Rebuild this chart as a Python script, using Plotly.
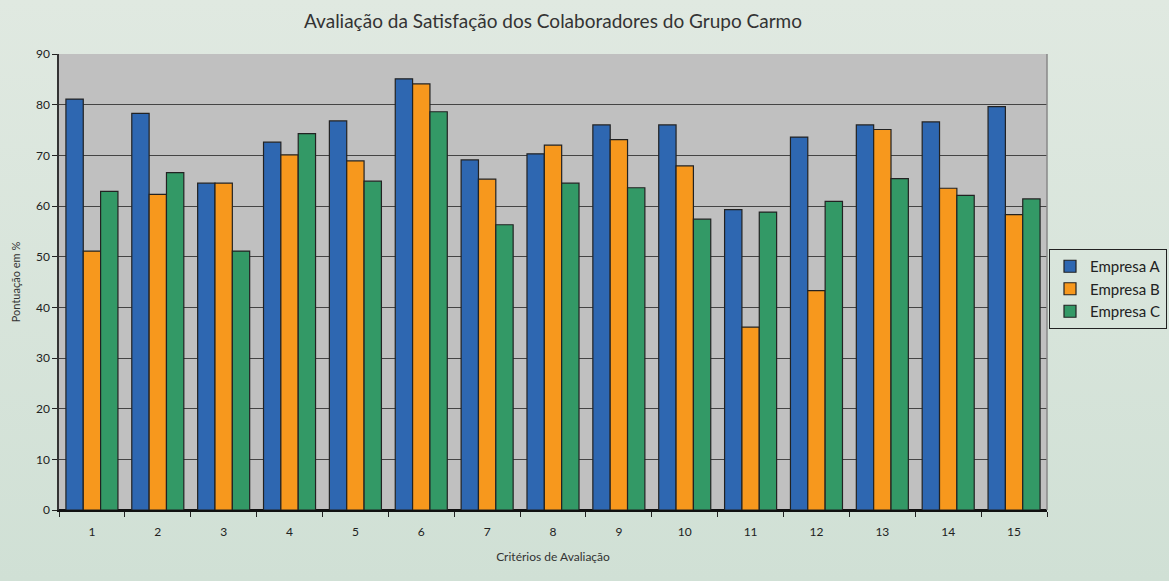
import plotly.graph_objects as go

criterios = [str(i) for i in range(1, 16)]
empresa_a = [81.1, 78.3, 64.5, 72.6, 76.8, 85.1, 69.1, 70.3, 76.0, 76.0, 59.3, 73.6, 76.0, 76.6, 79.6]
empresa_b = [51.1, 62.3, 64.5, 70.1, 68.9, 84.1, 65.3, 72.0, 73.1, 67.9, 36.1, 43.3, 75.1, 63.5, 58.3]
empresa_c = [62.9, 66.6, 51.1, 74.3, 64.9, 78.6, 56.3, 64.5, 63.6, 57.4, 58.8, 60.9, 65.4, 62.1, 61.4]
series_names = ["Empresa A", "Empresa B", "Empresa C"]
colors = ["#2e67b1", "#f7981d", "#339966"]

W, H = 1169, 581
ml, mr, mt, mb = 59, 122, 54, 71
pw, ph = W - ml - mr, H - mt - mb

fig = go.Figure()
for name, vals, col in zip(series_names, [empresa_a, empresa_b, empresa_c], colors):
    fig.add_trace(go.Bar(
        x=criterios, y=vals, name=name,
        marker=dict(color=col, line=dict(color="#222222", width=1.2)),
    ))

svg = ("data:image/svg+xml;utf8,<svg xmlns='http://www.w3.org/2000/svg' width='100' height='100' preserveAspectRatio='none'>"
       "<defs><linearGradient id='g' x1='0' y1='0' x2='0' y2='1'>"
       "<stop offset='0' stop-color='%23e0e9e1'/><stop offset='1' stop-color='%23d0e0d5'/>"
       "</linearGradient></defs><rect width='100' height='100' fill='url(%23g)'/></svg>")

fig.update_layout(
    width=W, height=H,
    margin=dict(l=ml, r=mr, t=mt, b=mb, autoexpand=False),
    paper_bgcolor="#d8e4da",
    plot_bgcolor="#c0c0c0",
    font=dict(family="Lato, 'Open Sans', sans-serif", color="#222222", size=12),
    title=dict(text="Avaliação da Satisfação dos Colaboradores do Grupo Carmo",
               x=(ml + pw / 2) / W, xanchor="center", y=1 - 21 / H, yanchor="middle",
               font=dict(size=19, color="#333333")),
    barmode="group", bargap=0.21, bargroupgap=0,
    showlegend=True,
    legend=dict(x=(1167 - ml) / pw, xanchor="right", y=1 - (289 - mt) / ph, yanchor="middle",
                bgcolor="rgba(0,0,0,0)", bordercolor="#222222", borderwidth=1,
                font=dict(size=15, color="#222222"), tracegroupgap=2, itemwidth=30),
    xaxis=dict(
        title=dict(text="Critérios de Avaliação", font=dict(size=12, color="#333333"), standoff=14),
        tickson="boundaries", ticks="outside", ticklen=5, tickcolor="#222222",
        ticklabelstandoff=10,
        showline=True, linecolor="#111111", linewidth=2,
        showgrid=False, tickfont=dict(size=12),
    ),
    yaxis=dict(
        title=dict(text="Pontuação em %", font=dict(size=11, color="#333333"), standoff=13),
        range=[0, 90], dtick=10, ticks="outside", ticklen=5, tickcolor="#222222",
        showline=True, linecolor="#333333", linewidth=1.5,
        showgrid=True, gridcolor="#444444", gridwidth=1.3,
        zeroline=True, zerolinecolor="#111111", zerolinewidth=2,
        tickfont=dict(size=12),
    ),
    images=[dict(source=svg, xref="paper", yref="paper",
                 x=-ml / pw, y=1 + mt / ph, sizex=W / pw, sizey=H / ph,
                 xanchor="left", yanchor="top", sizing="stretch", layer="below")],
    shapes=[
        dict(type="rect", xref="paper", yref="paper", x0=0, x1=1, y0=0, y1=1,
             fillcolor="#c0c0c0", line=dict(width=0), layer="below"),
        dict(type="line", xref="paper", yref="paper", x0=1, x1=1, y0=0, y1=1,
             line=dict(color="#888888", width=1.5)),
    ],
)

fig.write_html("out.html", config={"displayModeBar": False},
               post_script="document.body.style.margin='0';document.body.style.overflow='hidden';")
